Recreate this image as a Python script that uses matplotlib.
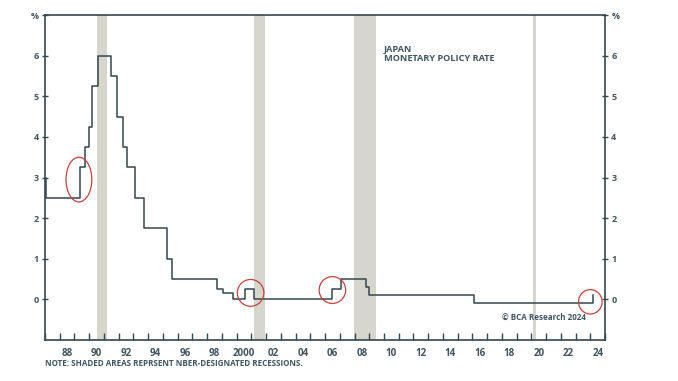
import matplotlib
matplotlib.use('Agg')
import matplotlib.pyplot as plt
from matplotlib.patches import Ellipse

plt.rcParams['font.family'] = ['Open Sans', 'DejaVu Sans']

# ==================================== data ==========================================
# Japan policy rate, step changes (decimal year, %)
dates = [1987.0, 1987.1, 1989.35, 1989.7, 1989.98, 1990.22, 1990.6, 1991.5,
         1991.87, 1992.3, 1992.57, 1993.1, 1993.7, 1995.25, 1995.65, 1998.7,
         1999.1, 1999.78, 2000.6, 2001.2, 2006.5, 2007.1, 2008.78, 2008.98,
         2016.08, 2024.2]
rate = [3.0, 2.5, 3.25, 3.75, 4.25, 5.25, 6.0, 5.5,
        4.5, 3.75, 3.25, 2.5, 1.75, 1.0, 0.5, 0.25,
        0.15, 0.0, 0.25, 0.0, 0.25, 0.5, 0.3, 0.1,
        -0.1, 0.1]

# NBER recessions (start, end)
recessions = [(1990.5, 1991.2), (2001.2, 2001.9), (2007.95, 2009.45), (2020.1, 2020.3)]

# highlighted hikes: (x, y, width, height)
circles = [(1989.3, 2.95, 1.75, 1.1), (2000.95, 0.16, 1.8, 0.66),
           (2006.5, 0.23, 1.8, 0.66), (2024.0, -0.06, 1.6, 0.6)]

years = list(range(1987, 2026))
label_years = list(range(1988, 2025, 2))
ytick_vals = [0, 1, 2, 3, 4, 5, 6, 7]
ytick_labels = ['0', '1', '2', '3', '4', '5', '6', '%']

# ==================================== plot ==========================================
line_col = '#33474f'
text_col = '#3f5560'
shade_col = '#d6d6cc'

fig = plt.figure(figsize=(6.78, 3.81), dpi=100)
ax = fig.add_axes([0.0664, 0.1076, 0.826, 0.853])

for s, e in recessions:
    ax.axvspan(s, e, color=shade_col, lw=0, zorder=1)

ax.plot(dates, rate, drawstyle='steps-post', color=line_col, lw=1.1, zorder=3)

for cx, cy, w, h in circles:
    ax.add_patch(Ellipse((cx, cy), w, h, fill=False, ec='#c8403a', lw=0.9, zorder=4))

ax.set_xlim(1987, 2025)
ax.set_ylim(-1, 7)

for sp in ax.spines.values():
    sp.set_color(line_col)
    sp.set_linewidth(1.2)

# x axis: ticks at year boundaries, labels mid-year
ax.set_xticks(years)
ax.set_xticklabels([])
ax.tick_params(axis='x', direction='in', length=5, width=1.0, color=line_col)
for y in label_years:
    lab = '2000' if y == 2000 else f'{y % 100:02d}'
    ax.text(y + 0.5, -1.2, lab, ha='center', va='top', fontsize=7,
            fontweight='bold', color=text_col)

ax.set_yticks(ytick_vals)
ax.set_yticklabels(ytick_labels)
ax.tick_params(axis='y', direction='inout', length=5, width=1.0, color=line_col,
               labelsize=6.5, labelcolor=text_col, left=True, right=True,
               labelleft=True, labelright=True, pad=2)
for t in ax.get_yticklabels():
    t.set_fontweight('bold')

ax.text(2010.0, 6.25, 'JAPAN\nMONETARY POLICY RATE', ha='left', va='top',
        fontsize=6.6, fontweight='bold', color=text_col, linespacing=1.0)
ax.text(2023.7, -0.45, '\u00a9 BCA Research 2024', ha='right', va='center',
        fontsize=5.8, fontweight='bold', color=text_col)

fig.text(45 / 678, 1 - 363 / 381, 'NOTE: SHADED AREAS REPRSENT NBER-DESIGNATED RECESSIONS.',
         ha='left', va='center', fontsize=5.8, fontweight='bold', color=text_col)

fig.savefig('out.png', dpi=100)
